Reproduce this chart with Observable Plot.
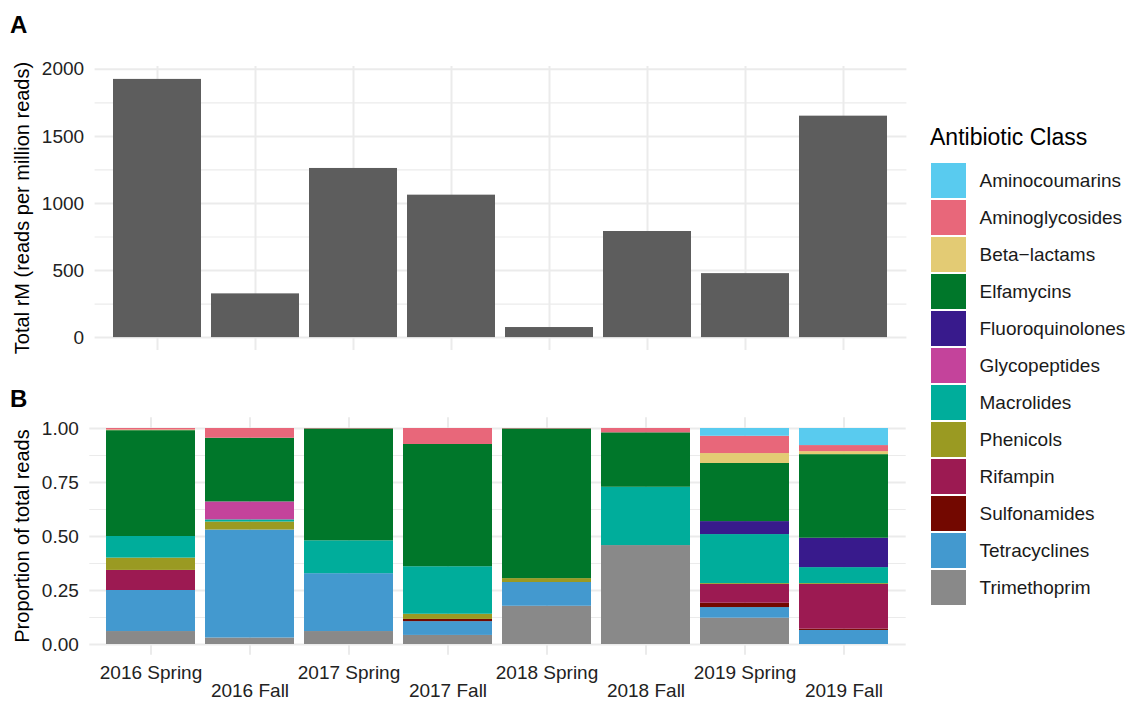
<!DOCTYPE html>
<html><head><meta charset="utf-8">
<script src="https://cdn.jsdelivr.net/npm/d3@7"></script>
<script src="https://cdn.jsdelivr.net/npm/@observablehq/plot@0.6"></script>
<style>
html,body{margin:0;padding:0;background:#fff;}
#fig{position:relative;width:1130px;height:702px;overflow:hidden;font-family:"Liberation Sans",Arial,Helvetica,sans-serif;}
#fig > *{position:absolute;}
</style></head><body><div id="fig"></div>
<script>
// ---- data ----
const seasons = ["2016 Spring","2016 Fall","2017 Spring","2017 Fall","2018 Spring","2018 Fall","2019 Spring","2019 Fall"];
const totalRM = [1925, 326, 1261, 1062, 75, 791, 477, 1651];

const classes = ["Aminocoumarins","Aminoglycosides","Beta\u2212lactams","Elfamycins","Fluoroquinolones","Glycopeptides","Macrolides","Phenicols","Rifampin","Sulfonamides","Tetracyclines","Trimethoprim"];
const classColors = ["#59CBEF","#E8677A","#E3CB74","#00772A","#381A8C","#C4439B","#00AD9B","#9A9A22","#9C1A52","#730800","#4399CF","#898989"];

const aminocoumarins   = [0,     0,     0,     0,     0,     0,     0.036, 0.079];
const aminoglycosides  = [0.007, 0.045, 0.002, 0.074, 0.002, 0.020, 0.080, 0.028];
const betaLactams      = [0.003, 0,     0,     0,     0,     0,     0.046, 0.014];
const elfamycins       = [0.490, 0.295, 0.518, 0.566, 0.693, 0.252, 0.269, 0.387];
const fluoroquinolones = [0,     0,     0,     0,     0,     0,     0.060, 0.136];
const glycopeptides    = [0,     0.083, 0,     0,     0,     0,     0,     0];
const macrolides       = [0.100, 0.010, 0.152, 0.220, 0,     0.270, 0.227, 0.074];
const phenicols        = [0.057, 0.037, 0,     0.024, 0.018, 0,     0.004, 0.004];
const rifampin         = [0.093, 0,     0,     0,     0,     0,     0.087, 0.207];
const sulfonamides     = [0,     0,     0,     0.010, 0,     0,     0.020, 0.006];
const tetracyclines    = [0.190, 0.500, 0.268, 0.064, 0.110, 0,     0.049, 0.065];
const trimethoprim     = [0.060, 0.030, 0.060, 0.042, 0.177, 0.458, 0.122, 0];

const ticksA = [0, 500, 1000, 1500, 2000];
const minorA = [250, 750, 1250, 1750];
const ticksB = [0, 0.25, 0.5, 0.75, 1];
const minorB = [0.125, 0.375, 0.625, 0.875];

// ---- build tables ----
const seriesByClass = [aminocoumarins, aminoglycosides, betaLactams, elfamycins, fluoroquinolones, glycopeptides, macrolides, phenicols, rifampin, sulfonamides, tetracyclines, trimethoprim];
const tidy = [];
for (let c = classes.length - 1; c >= 0; c--) {   // bottom of stack first
  seriesByClass[c].forEach((v, i) => { if (v > 0) tidy.push({season: seasons[i], cls: classes[c], value: v}); });
}
const totals = seasons.map((s, i) => ({season: s, total: totalRM[i]}));

const FONT = '"Liberation Sans", Arial, Helvetica, sans-serif';
const GRID = "#EBEBEB";
const baseStyle = {fontFamily: FONT, fontSize: "19px", color: "#222", background: "transparent", overflow: "visible"};
const fig = document.getElementById("fig");

// ---- Panel A ----
const panelA = Plot.plot({
  width: 910, height: 360,
  marginLeft: 94.6, marginRight: 3.6, marginTop: 66, marginBottom: 10,
  style: baseStyle,
  x: {type: "band", domain: seasons, paddingInner: 0.1, paddingOuter: 0.15, axis: null},
  y: {domain: [-96.25, 2021.25]},
  marks: [
    Plot.ruleY(minorA, {stroke: GRID, strokeWidth: 1.2}),
    Plot.ruleY(ticksA, {stroke: GRID, strokeWidth: 2}),
    Plot.ruleX(seasons, {stroke: GRID, strokeWidth: 2}),
    Plot.barY(totals, {x: "season", y: "total", fill: "#5D5D5D"}),
    Plot.axisY({ticks: ticksA, tickSize: 0, tickPadding: 11, label: null, tickFormat: "d", fontSize: 19})
  ]
});
panelA.style.left = "0px"; panelA.style.top = "0px";
fig.appendChild(panelA);

// ---- Panel B ----
const panelB = Plot.plot({
  width: 910, height: 322,
  marginLeft: 89.3, marginRight: 4.3, marginTop: 37.2, marginBottom: 47.2,
  style: baseStyle,
  x: {type: "band", domain: seasons, paddingInner: 0.1, paddingOuter: 0.15},
  y: {domain: [-0.05, 1.05]},
  color: {domain: classes, range: classColors},
  marks: [
    Plot.ruleY(minorB, {stroke: GRID, strokeWidth: 1.2}),
    Plot.ruleY(ticksB, {stroke: GRID, strokeWidth: 2}),
    Plot.ruleX(seasons, {stroke: GRID, strokeWidth: 2}),
    Plot.barY(tidy, {x: "season", y: "value", fill: "cls", order: null}),
    Plot.axisY({ticks: ticksB, tickSize: 0, tickPadding: 11, label: null, tickFormat: ".2f", fontSize: 19}),
    Plot.axisX({ticks: seasons.filter((d, i) => i % 2 === 0), tickSize: 0, tickPadding: 10, label: null, fontSize: 19}),
    Plot.axisX({ticks: seasons.filter((d, i) => i % 2 === 1), tickSize: 0, tickPadding: 28.5, label: null, fontSize: 19})
  ]
});
panelB.style.left = "0px"; panelB.style.top = "380px";
fig.appendChild(panelB);

// ---- Legend ----
const legend = Plot.plot({
  width: 199, height: 490,
  marginLeft: 0, marginRight: 164, marginTop: 40.7, marginBottom: 2,
  style: baseStyle,
  x: {domain: [0, 1], axis: null},
  y: {type: "band", domain: classes, paddingInner: 0.057, paddingOuter: 0, axis: null},
  color: {domain: classes, range: classColors},
  marks: [
    Plot.barX(classes, {y: d => d, x1: 0, x2: 1, fill: d => d}),
    Plot.text(classes, {y: d => d, text: d => d, frameAnchor: "right", dx: 13, textAnchor: "start", fill: "#1a1a1a", fontSize: 19})
  ]
});
legend.style.left = "931px"; legend.style.top = "120px";
fig.appendChild(legend);

// ---- titles / labels overlay ----
const ov = d3.select(fig).append("svg")
  .attr("width", 1130).attr("height", 702)
  .style("left", "0px").style("top", "0px").style("pointer-events", "none")
  .style("font-family", FONT);
ov.append("text").attr("x", 10).attr("y", 33).attr("font-size", 24).attr("font-weight", "bold").attr("fill", "#000").text("A");
ov.append("text").attr("x", 10).attr("y", 407).attr("font-size", 24).attr("font-weight", "bold").attr("fill", "#000").text("B");
ov.append("text").attr("transform", "translate(29,208) rotate(-90)").attr("text-anchor", "middle").attr("font-size", 20).attr("fill", "#000").text("Total rM (reads per million reads)");
ov.append("text").attr("transform", "translate(29,536) rotate(-90)").attr("text-anchor", "middle").attr("font-size", 20).attr("fill", "#000").text("Proportion of total reads");
ov.append("text").attr("x", 930).attr("y", 145).attr("font-size", 23).attr("fill", "#000").text("Antibiotic Class");
</script>
</body></html>
